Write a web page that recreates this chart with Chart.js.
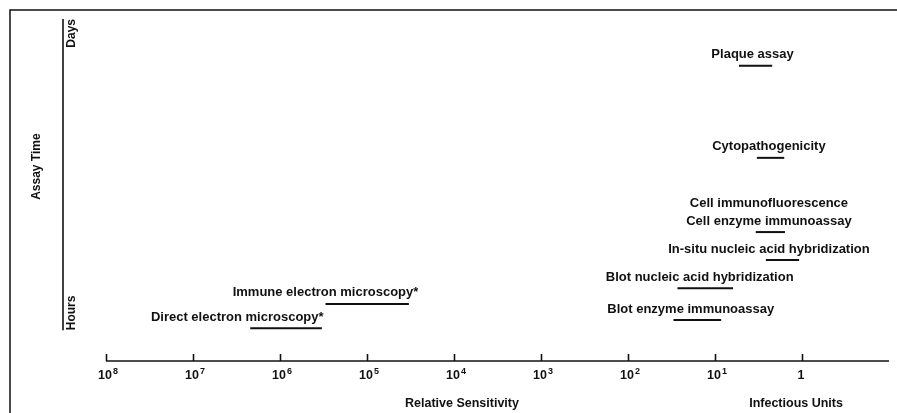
<!DOCTYPE html>
<html>
<head>
<meta charset="utf-8">
<script src="https://cdn.jsdelivr.net/npm/chart.js@4.4.0/dist/chart.umd.min.js"></script>
<style>
  html, body { margin: 0; padding: 0; background: #fff; }
  #wrap { width: 897px; height: 413px; position: relative; }
</style>
</head>
<body>
<div id="wrap"><canvas id="assayChart" width="897" height="413"></canvas></div>
<script>
// Data
const assays = [
  'Plaque assay',
  'Cytopathogenicity',
  'Cell immunofluorescence',
  'Cell enzyme immunoassay',
  'In-situ nucleic acid hybridization',
  'Blot nucleic acid hybridization',
  'Blot enzyme immunoassay',
  'Immune electron microscopy*',
  'Direct electron microscopy*'
];
// detection range in infectious units (left end / right end of each bar)
const rangeLow  = [5.3, 3.3, null, 3.4, 2.6, 27, 30, 3.0e5, 2.2e6];
const rangeHigh = [2.2, 1.6, null, 1.57, 1.08, 6.2, 8.5, 3.3e4, 3.3e5];
// relative assay time (0 = fastest, 100 = days)
const assayTime = [86.3, 59.4, 43, 37.7, 29.5, 21.3, 12.0, 16.7, 9.6];
// where each caption is centred, in infectious units
const labelAt = [3.7, 2.4, 2.4, 2.4, 2.4, 15, 19, 3.0e5, 3.1e6];

const sensitivityTicks = [1e8, 1e7, 1e6, 1e5, 1e4, 1e3, 1e2, 1e1, 1];
const tickLabels = ['10^8', '10^7', '10^6', '10^5', '10^4', '10^3', '10^2', '10^1', '1'];
const timeLabels = ['Hours', 'Days'];
const timeRange = [9, 100];

const FONT = '"Liberation Sans", Arial, Helvetica, sans-serif';
const INK = '#111';

const datasets = assays.map((name, i) => ({
  label: name,
  data: rangeLow[i] == null ? [] : [
    { x: rangeLow[i], y: assayTime[i] },
    { x: rangeHigh[i], y: assayTime[i] }
  ],
  borderColor: INK,
  borderWidth: 2,
  pointRadius: 0,
  fill: false
}));

const decorations = {
  id: 'decorations',
  afterDraw(chart) {
    const { ctx, chartArea: a, scales: { x, y } } = chart;
    ctx.save();
    ctx.strokeStyle = INK;
    ctx.fillStyle = INK;

    // frame (left and top rules of the figure box)
    ctx.lineWidth = 1.5;
    ctx.beginPath();
    ctx.moveTo(10, 413);
    ctx.lineTo(10, 10);
    ctx.lineTo(897, 10);
    ctx.stroke();

    // x axis line and upward ticks
    const x0 = x.getPixelForValue(sensitivityTicks[0]);
    ctx.lineWidth = 1.6;
    ctx.beginPath();
    ctx.moveTo(x0, a.bottom);
    ctx.lineTo(a.right, a.bottom);
    ctx.stroke();
    sensitivityTicks.forEach(v => {
      const px = Math.round(x.getPixelForValue(v)) + 0.5;
      ctx.beginPath();
      ctx.moveTo(px, a.bottom);
      ctx.lineTo(px, a.bottom - 7);
      ctx.stroke();
    });

    // tick labels with superscript exponents
    ctx.textBaseline = 'alphabetic';
    tickLabels.forEach((t, i) => {
      const px = x.getPixelForValue(sensitivityTicks[i]);
      const [base, exp] = t.split('^');
      ctx.font = `bold 12.5px ${FONT}`;
      const bw = ctx.measureText(base).width;
      ctx.textAlign = 'left';
      ctx.fillText(base, px - bw / 2 - 1, a.bottom + 18);
      if (exp) {
        ctx.font = `bold 9px ${FONT}`;
        ctx.fillText(exp, px + bw / 2, a.bottom + 13);
      }
    });

    // axis titles
    ctx.font = `bold 12.5px ${FONT}`;
    ctx.textAlign = 'center';
    ctx.textBaseline = 'middle';
    ctx.fillText('Relative Sensitivity', x.getPixelForValue(8.1e3), a.bottom + 43);
    ctx.fillText('Infectious Units', x.getPixelForValue(1.17), a.bottom + 43);

    // assay time axis
    const yTop = y.getPixelForValue(timeRange[1]);
    const yBot = y.getPixelForValue(timeRange[0]);
    const ax = a.left - 43;
    ctx.lineWidth = 1.6;
    ctx.beginPath();
    ctx.moveTo(ax, yTop);
    ctx.lineTo(ax, yBot);
    ctx.stroke();

    ctx.font = `bold 12px ${FONT}`;
    const rot = (text, cx, cy, align) => {
      ctx.save();
      ctx.translate(cx, cy);
      ctx.rotate(-Math.PI / 2);
      ctx.textAlign = align;
      ctx.textBaseline = 'middle';
      ctx.fillText(text, 0, 0);
      ctx.restore();
    };
    rot(timeLabels[1], ax + 9, yTop, 'right');
    rot(timeLabels[0], ax + 9, yBot, 'left');
    rot('Assay Time', ax - 26, (yTop + y.getPixelForValue(timeRange[0])) / 2 - 8, 'center');

    // captions above each bar
    ctx.font = `bold 13px ${FONT}`;
    ctx.textAlign = 'center';
    ctx.textBaseline = 'middle';
    assays.forEach((name, i) => {
      const px = x.getPixelForValue(labelAt[i]);
      const py = y.getPixelForValue(assayTime[i]) - 11;
      ctx.fillText(name, px, py);
    });

    ctx.restore();
  }
};

new Chart(document.getElementById('assayChart'), {
  type: 'line',
  data: { datasets },
  options: {
    responsive: false,
    animation: false,
    devicePixelRatio: 1,
    layout: { padding: { left: 106, top: 19, right: 8, bottom: 52 } },
    plugins: { legend: { display: false }, tooltip: { enabled: false } },
    scales: {
      x: { type: 'logarithmic', reverse: true, min: 0.1, max: 1e8, display: false },
      y: { type: 'linear', min: 0, max: 100, display: false }
    }
  },
  plugins: [decorations]
});
</script>
</body>
</html>
